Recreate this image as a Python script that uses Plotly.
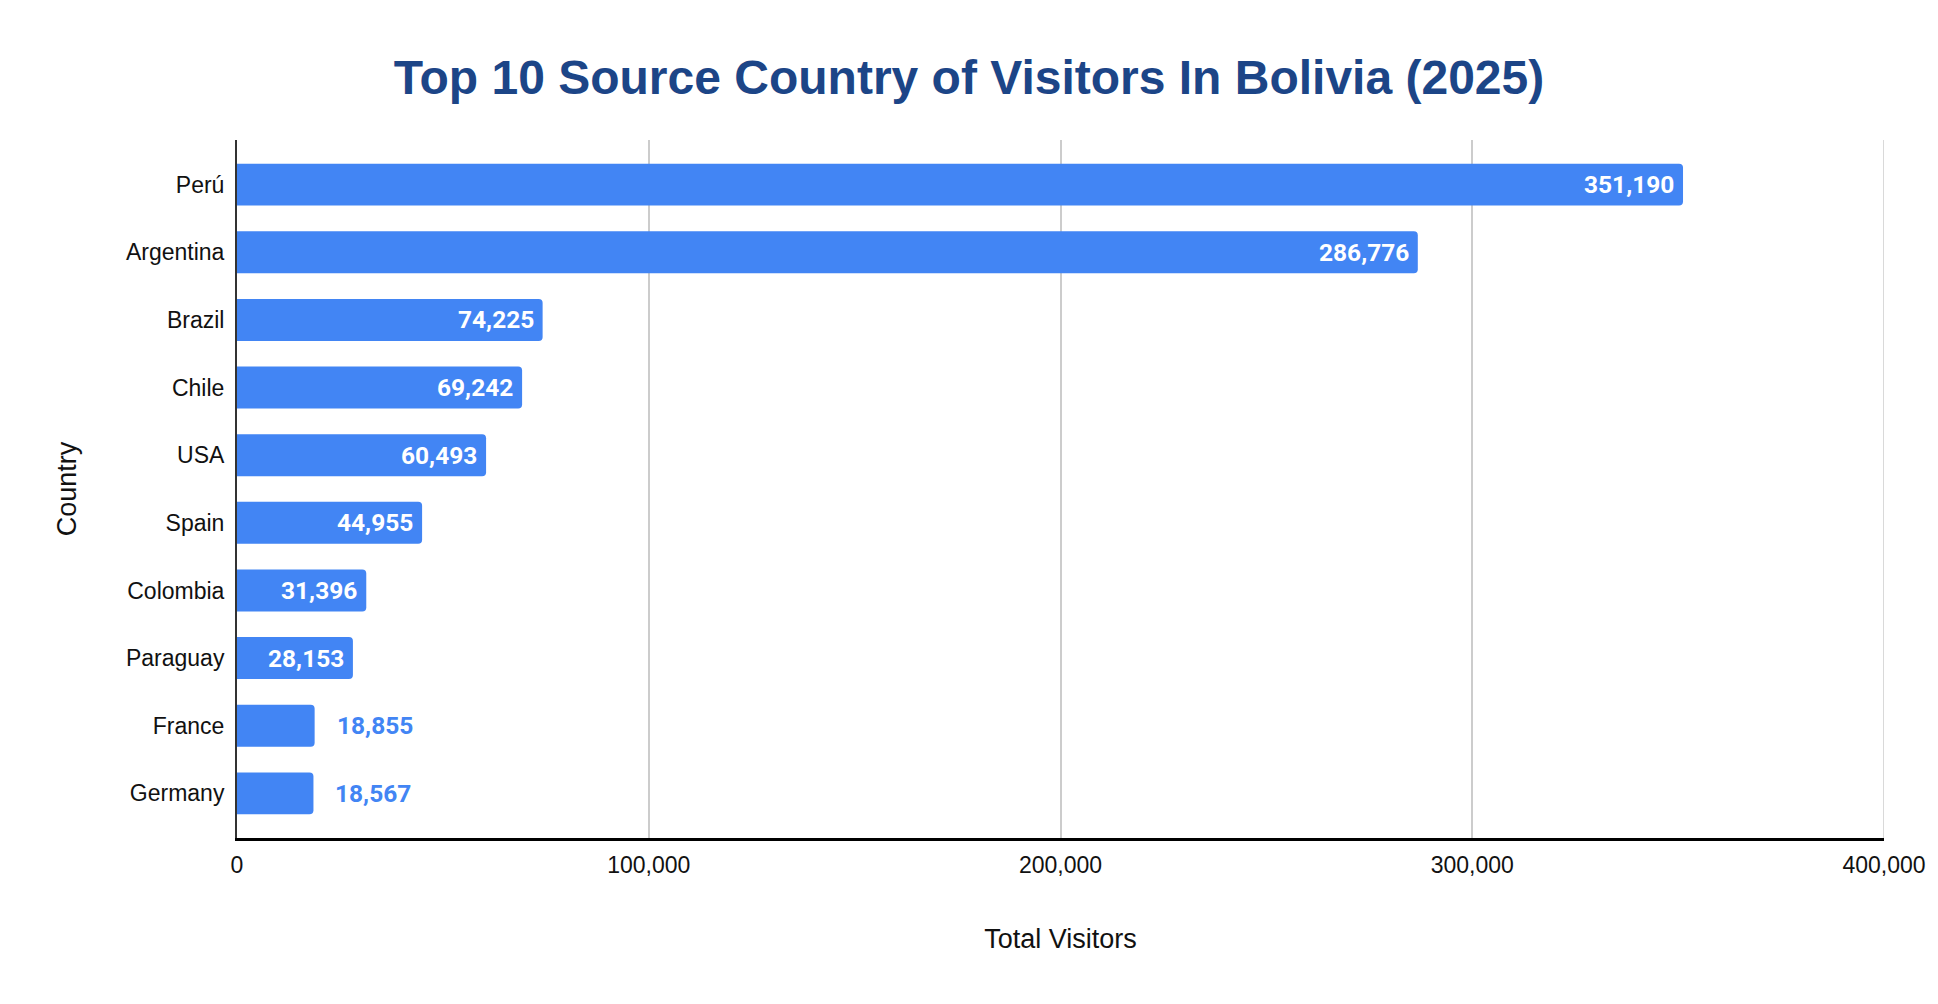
import plotly.graph_objects as go

countries = ['Perú', 'Argentina', 'Brazil', 'Chile', 'USA', 'Spain',
             'Colombia', 'Paraguay', 'France', 'Germany']
visitors = [351190, 286776, 74225, 69242, 60493, 44955, 31396, 28153, 18855, 18567]

x_ticks = [0, 100000, 200000, 300000, 400000]
x_tick_labels = ['0', '100,000', '200,000', '300,000', '400,000']

BAR_COLOR = '#4285f4'
TITLE_COLOR = '#1c4587'
GRID_COLOR = '#cccccc'
TEXT_COLOR = '#111111'


def label_annotations(names, values):
    # labels inside the bar end when they fit, otherwise just past it in blue
    notes = []
    for name, val in zip(names, values):
        inside = val >= 25000
        notes.append(dict(
            x=val, y=name, xref='x', yref='y',
            text='{:,}'.format(val), showarrow=False,
            xanchor='right' if inside else 'left',
            xshift=-7 if inside else 20,
            font=dict(family='Roboto', size=24.5, weight='bold',
                      color='white' if inside else BAR_COLOR),
        ))
    return notes


fig = go.Figure()
fig.add_trace(go.Bar(
    x=visitors, y=countries, orientation='h',
    marker=dict(color=BAR_COLOR, cornerradius=4, line=dict(width=0)),
    hoverinfo='x+y',
))

fig.update_layout(
    width=1938, height=1004,
    margin=dict(l=237, r=46, t=140, b=166),
    paper_bgcolor='white', plot_bgcolor='white',
    bargap=0.38,
    showlegend=False,
    title=dict(text='Top 10 Source Country of Visitors In Bolivia (2025)',
               x=0.5, xref='container', xanchor='center',
               y=1 - 77 / 1004, yref='container', yanchor='middle',
               font=dict(family='Liberation Sans', size=48, weight='bold',
                         color=TITLE_COLOR)),
    annotations=label_annotations(countries, visitors),
)

# plotly skips the gridline sitting on the right edge, so add it by hand
fig.add_shape(type='line', xref='x', yref='paper',
              x0=x_ticks[-1], x1=x_ticks[-1], y0=0, y1=1,
              line=dict(color=GRID_COLOR, width=1.5), layer='below')

fig.update_xaxes(
    range=[0, 400000], tickvals=x_ticks, ticktext=x_tick_labels,
    showgrid=True, gridcolor=GRID_COLOR, gridwidth=1.5,
    showline=True, linecolor='#000000', linewidth=2.5,
    zeroline=False, ticks='', ticklabelstandoff=5,
    tickfont=dict(family='Liberation Sans', size=23, color=TEXT_COLOR),
    title=dict(text='Total Visitors', standoff=52,
               font=dict(family='Liberation Sans', size=27, color=TEXT_COLOR)),
)

fig.update_yaxes(
    range=[len(countries) - 0.34, -0.66],
    showgrid=False, showline=True, linecolor='#333333', linewidth=2,
    ticks='', ticklabelstandoff=6,
    tickfont=dict(family='Liberation Sans', size=23, color=TEXT_COLOR),
    title=dict(text='Country', standoff=41,
               font=dict(family='Liberation Sans', size=27, color=TEXT_COLOR)),
)

fig.write_html('out.html', config={'displayModeBar': False},
               post_script="document.body.style.margin='0';document.body.style.overflow='hidden';")
